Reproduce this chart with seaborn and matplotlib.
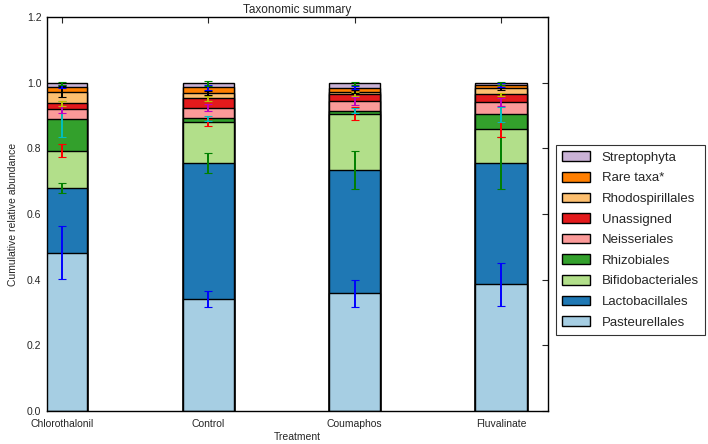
import matplotlib
matplotlib.use("Agg")
import matplotlib.pyplot as plt
from matplotlib.patches import Patch
import seaborn as sns
import numpy as np
import pandas as pd

treatments = ["Chlorothalonil", "Control", "Coumaphos", "Fluvalinate"]
taxa = ["Pasteurellales", "Lactobacillales", "Bifidobacteriales", "Rhizobiales",
        "Neisseriales", "Unassigned", "Rhodospirillales", "Rare taxa*", "Streptophyta"]

# relative abundance per taxon (columns follow treatments)
pasteurellales    = [0.482, 0.341, 0.358, 0.386]
lactobacillales   = [0.196, 0.414, 0.376, 0.370]
bifidobacteriales = [0.115, 0.124, 0.171, 0.102]
rhizobiales       = [0.096, 0.012, 0.010, 0.046]
neisseriales      = [0.030, 0.033, 0.030, 0.038]
unassigned        = [0.018, 0.028, 0.020, 0.023]
rhodospirillales  = [0.036, 0.016, 0.008, 0.020]
rare_taxa         = [0.015, 0.018, 0.012, 0.008]
streptophyta      = [0.010, 0.012, 0.013, 0.005]

# standard errors
err_pasteurellales    = [0.080, 0.025, 0.040, 0.066]
err_lactobacillales   = [0.015, 0.030, 0.059, 0.080]
err_bifidobacteriales = [0.020, 0.010, 0.020, 0.022]
err_rhizobiales       = [0.054, 0.007, 0.007, 0.023]
err_neisseriales      = [0.010, 0.010, 0.012, 0.012]
err_unassigned        = [0.008, 0.008, 0.006, 0.005]
err_rhodospirillales  = [0.018, 0.007, 0.005, 0.008]
err_rare_taxa         = [0.004, 0.007, 0.004, 0.006]
err_streptophyta      = [0.004, 0.008, 0.004, 0.004]

values = [pasteurellales, lactobacillales, bifidobacteriales, rhizobiales, neisseriales,
          unassigned, rhodospirillales, rare_taxa, streptophyta]
errors = [err_pasteurellales, err_lactobacillales, err_bifidobacteriales, err_rhizobiales,
          err_neisseriales, err_unassigned, err_rhodospirillales, err_rare_taxa, err_streptophyta]

bar_colors = sns.color_palette("Paired", 9)
B, G, R, C, M, Y, K = (0, 0, 1), (0, 0.5, 0), (1, 0, 0), (0, 0.75, 0.75), (0.75, 0, 0.75), (0.75, 0.75, 0), (0, 0, 0)
err_colors = [B, G, R, C, M, Y, K, B, G]

sns.set_theme(style="white")
plt.rcParams["font.family"] = ["Liberation Sans", "DejaVu Sans"]

fig = plt.figure(figsize=(7.08, 4.44), dpi=100)
ax = fig.add_axes([47/708, 33/444, (548-47)/708, (411-17)/444])

cum = np.cumsum(np.array(values), axis=0)
# draw tallest cumulative first so lower segments overlay
for i in range(len(taxa) - 1, -1, -1):
    df = pd.DataFrame({"Treatment": treatments, "val": cum[i]})
    sns.barplot(data=df, x="Treatment", y="val", color=bar_colors[i], width=0.35,
                edgecolor="black", linewidth=1.0, saturation=1, ax=ax, zorder=2)

x = np.arange(len(treatments))
for i in range(len(taxa)):
    ax.errorbar(x, cum[i], yerr=errors[i], fmt="none", ecolor=err_colors[i],
                elinewidth=1.4, capsize=3, capthick=0.8, zorder=5)

ax.set_xlim(-0.1, 3.32)
ax.set_ylim(0, 1.2)
yt = np.arange(0, 1.21, 0.2)
ax.set_yticks(yt)
ax.set_yticklabels([f"{v:.1f}" for v in yt])
ax.tick_params(direction="in", top=True, right=True, labelsize=7.5, length=4, width=0.8)
ax.tick_params(axis="x", pad=6)
ax.tick_params(axis="y", pad=4)
for s in ax.spines.values():
    s.set_color("black")
    s.set_linewidth(1.0)
ax.set_title("Taxonomic summary", fontsize=8.5, pad=3)
ax.set_xlabel("Treatment", fontsize=7.5, labelpad=2)
ax.set_ylabel("Cumulative relative abundance", fontsize=7.5, labelpad=6)

handles = [Patch(facecolor=bar_colors[i], edgecolor="black", linewidth=1.0, label=taxa[i])
           for i in range(len(taxa) - 1, -1, -1)]
leg = fig.legend(handles=handles, loc="center left", bbox_to_anchor=(556/708, 1 - 240/444),
                 fontsize=9.5, frameon=True, fancybox=False, edgecolor="black",
                 handlelength=2.15, handleheight=0.75, handletextpad=0.85,
                 labelspacing=0.62, borderpad=0.45, borderaxespad=0)
leg.get_frame().set_linewidth(0.8)

fig.savefig("out.png", dpi=100)
